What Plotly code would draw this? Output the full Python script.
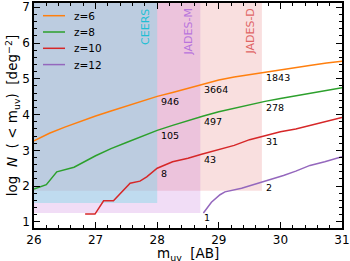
import numpy as np
import plotly.graph_objects as go

# ---------------- data ----------------
m_z6 = [26.0, 26.25, 26.5, 26.75, 27.0, 27.25, 27.5, 27.75, 28.0, 28.25, 28.5, 28.75,
        29.0, 29.25, 29.5, 29.75, 30.0, 30.25, 30.5, 30.75, 31.0]
logN_z6 = [3.27, 3.48, 3.65, 3.81, 3.96, 4.10, 4.24, 4.38, 4.51, 4.62, 4.74, 4.85,
           4.97, 5.05, 5.12, 5.19, 5.26, 5.32, 5.38, 5.44, 5.49]

m_z8 = [26.0, 26.2, 26.37, 26.65, 27.0, 27.25, 27.5, 27.75, 28.0, 28.25, 28.5, 28.75,
        29.0, 29.25, 29.5, 29.75, 30.0, 30.25, 30.5, 30.75, 31.0]
logN_z8 = [1.92, 2.04, 2.40, 2.53, 2.85, 3.05, 3.22, 3.40, 3.56, 3.70, 3.84, 3.96,
           4.08, 4.18, 4.28, 4.37, 4.45, 4.53, 4.61, 4.68, 4.75]

m_z10 = [26.83, 26.99, 27.13, 27.29, 27.56, 27.72, 27.83, 28.0, 28.25, 28.5, 28.72,
         29.0, 29.25, 29.5, 29.75, 30.0, 30.25, 30.5, 30.75, 31.0]
logN_z10 = [1.22, 1.22, 1.59, 1.59, 2.08, 2.14, 2.26, 2.50, 2.68, 2.78, 2.89,
            3.02, 3.14, 3.30, 3.42, 3.52, 3.60, 3.70, 3.82, 3.92]

m_z12 = [28.75, 28.88, 29.02, 29.1, 29.37, 29.5, 29.72, 29.86, 30.05, 30.25, 30.48,
         30.72, 31.0]
logN_z12 = [1.25, 1.55, 1.76, 1.84, 1.94, 2.01, 2.11, 2.20, 2.30, 2.42, 2.58,
            2.68, 2.82]

series_names = ["z=6", "z=8", "z=10", "z=12"]
series_colors = ["#ff7f0e", "#2ca02c", "#d62728", "#9467bd"]

# survey depths and lower limits of the shaded regions
survey_names = ["JADES-D", "JADES-M", "CEERS"]
survey_depth = [29.7, 28.7, 28.0]
survey_floor = [1.87, 1.25, 1.53]
survey_fill = ["rgba(214,39,40,0.15)", "rgba(186,85,211,0.20)", "rgba(118,218,231,0.40)"]
survey_text_color = ["#e06464", "#b874dc", "#1fbfd4"]

# cumulative counts printed at each survey depth (CEERS, JADES-M, JADES-D)
label_depths = [28.0, 28.7, 29.7]
counts_z6 = [946, 3664, 1843]
counts_z8 = [105, 497, 278]
counts_z10 = [8, 43, 31]
counts_z12 = [None, 1, 2]

x_ticks = [26, 27, 28, 29, 30, 31]
y_ticks = [1, 2, 3, 4, 5, 6, 7]

# ---------------- figure ----------------
W, H = 350, 261
ML, MR, MT, MB = 34, 8, 3, 33
PW, PH = W - ML - MR, H - MT - MB

fig = go.Figure()

all_m = [m_z6, m_z8, m_z10, m_z12]
all_N = [logN_z6, logN_z8, logN_z10, logN_z12]
all_counts = [counts_z6, counts_z8, counts_z10, counts_z12]

for name, col, mx, ny in zip(series_names, series_colors, all_m, all_N):
    fig.add_trace(go.Scatter(x=mx, y=ny, mode="lines", name=name, showlegend=False,
                             line=dict(color=col, width=1.5)))

Y_TOP = 7.12
Y_BOT = 0.83
for nm, d, fl, fc, tc in zip(survey_names, survey_depth, survey_floor,
                             survey_fill, survey_text_color):
    fig.add_shape(type="rect", xref="x", yref="y", x0=25.5, x1=d, y0=fl, y1=Y_TOP + 1,
                  fillcolor=fc, line_width=0, layer="below")
    fig.add_annotation(x=d - 0.2, y=Y_TOP, xref="x", yref="y", text=nm,
                       textangle=-90, showarrow=False, xanchor="center", yanchor="top",
                       yshift=-4, font=dict(size=11, color=tc, family="DejaVu Sans"))

for mx, ny, cnts in zip(all_m, all_N, all_counts):
    for d, c in zip(label_depths, cnts):
        if c is None:
            continue
        yv = float(np.interp(d, mx, ny))
        fig.add_annotation(x=d, y=yv, xref="x", yref="y", text=str(c),
                           showarrow=False, xanchor="left", yanchor="middle",
                           xshift=2, yshift=-5,
                           font=dict(size=9.5, color="black", family="DejaVu Sans"))

# legend (drawn in the upper-left corner of the axes)
for i, (name, col) in enumerate(zip(series_names, series_colors)):
    py = 15.7 + 16.3 * i
    yp = 1 - (py - MT) / PH
    fig.add_shape(type="line", xref="paper", yref="paper",
                  x0=(43 - ML) / PW, x1=(65 - ML) / PW, y0=yp, y1=yp,
                  line=dict(color=col, width=1.5))
    fig.add_annotation(xref="paper", yref="paper", x=(72 - ML) / PW, y=yp, text=name,
                       showarrow=False, xanchor="left", yanchor="middle",
                       font=dict(size=10.5, color="black", family="DejaVu Sans"))

# x-axis title as a paper-positioned annotation (below the tick labels)
fig.add_annotation(xref="paper", yref="paper", x=0.5, y=1 - (254 - MT) / PH,
                   text="m<sub>uv</sub>  [AB]", showarrow=False,
                   xanchor="center", yanchor="middle",
                   font=dict(size=13.5, color="black", family="DejaVu Sans"))

axis_common = dict(
    showline=True, linecolor="black", linewidth=1.5, mirror="allticks",
    ticks="inside", ticklen=6, tickwidth=1.2, tickcolor="black",
    showgrid=False, zeroline=False, ticklabeloverflow="allow",
    tickfont=dict(size=12, color="black", family="DejaVu Sans"),
    minor=dict(ticks="inside", ticklen=3.5, tickwidth=1, tickcolor="black", dtick=0.2,
               showgrid=False),
)

fig.update_xaxes(range=[26, 31], tickvals=x_ticks, ticktext=[str(v) for v in x_ticks],
                 automargin=False, **axis_common)
fig.update_yaxes(range=[Y_BOT, Y_TOP], tickvals=y_ticks, ticktext=[str(v) for v in y_ticks],
                 title=dict(text="log  <i>N</i>  ( &lt; m<sub>uv</sub>)  [deg<sup>−2</sup>]",
                            standoff=0,
                            font=dict(size=13.5, color="black", family="DejaVu Sans")),
                 automargin=False, **axis_common)

fig.update_layout(
    width=W, height=H,
    margin=dict(l=ML, r=MR, t=MT, b=MB),
    plot_bgcolor="white", paper_bgcolor="white",
    font=dict(family="DejaVu Sans", color="black"),
    showlegend=False,
)

fig.write_html("out.html", config={"displayModeBar": False},
               post_script="document.body.style.margin='0';")
